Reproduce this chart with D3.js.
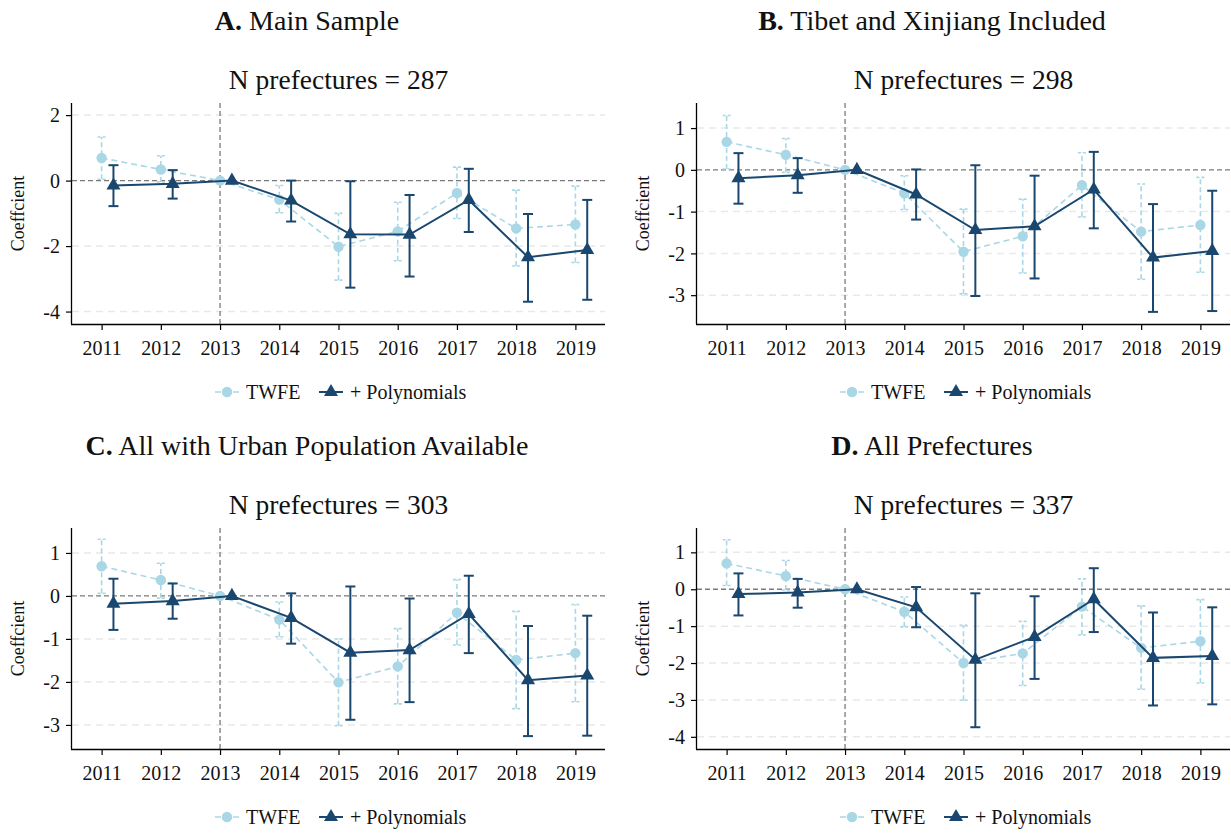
<!DOCTYPE html>
<html><head><meta charset="utf-8">
<script src="https://cdn.jsdelivr.net/npm/d3@7"></script>
<style>
body{margin:0;background:#fff;}
svg{display:block;font-family:"Liberation Serif","Times New Roman",serif;}
svg text{font-family:"Liberation Serif","Times New Roman",serif;}
</style>
</head><body>
<svg id="chart" width="1231" height="833"></svg>
<script>
// ---------------- data ----------------
const years = [2011, 2012, 2013, 2014, 2015, 2016, 2017, 2018, 2019];
const seriesNames = ["TWFE", "+ Polynomials"];
const panelLetters = ["A.", "B.", "C.", "D."];
const panelTitles = [" Main Sample", " Tibet and Xinjiang Included", " All with Urban Population Available", " All Prefectures"];
const nPrefectures = [287, 298, 303, 337];
const yAxisTitle = "Coeffcient";

const yTicksA = [2, 0, -2, -4];
const yTicksB = [1, 0, -1, -2, -3];
const yTicksC = [1, 0, -1, -2, -3];
const yTicksD = [1, 0, -1, -2, -3, -4];
const yDomainA = [-4.38, 2.37];
const yDomainB = [-3.69, 1.60];
const yDomainC = [-3.56, 1.58];
const yDomainD = [-4.33, 1.66];

// Panel A
const twfeA   = [0.69, 0.34, 0, -0.58, -2.02, -1.55, -0.38, -1.46, -1.34];
const twfeLoA = [0.04, -0.04, null, -0.98, -3.04, -2.45, -1.16, -2.61, -2.50];
const twfeHiA = [1.33, 0.76, null, -0.15, -1.00, -0.66, 0.41, -0.29, -0.17];
const polyA   = [-0.15, -0.10, 0, -0.61, -1.64, -1.65, -0.59, -2.34, -2.12];
const polyLoA = [-0.78, -0.55, null, -1.25, -3.27, -2.93, -1.57, -3.70, -3.64];
const polyHiA = [0.47, 0.32, null, 0.00, -0.02, -0.44, 0.36, -1.02, -0.59];
// Panel B
const twfeB   = [0.67, 0.36, 0, -0.56, -1.96, -1.59, -0.37, -1.48, -1.32];
const twfeLoB = [0.02, -0.06, null, -0.95, -2.97, -2.47, -1.13, -2.62, -2.45];
const twfeHiB = [1.30, 0.75, null, -0.14, -0.94, -0.70, 0.41, -0.34, -0.18];
const polyB   = [-0.20, -0.13, 0, -0.59, -1.44, -1.35, -0.47, -2.10, -1.94];
const polyLoB = [-0.81, -0.55, null, -1.19, -3.02, -2.60, -1.40, -3.40, -3.38];
const polyHiB = [0.40, 0.28, null, 0.01, 0.11, -0.14, 0.43, -0.82, -0.50];
// Panel C
const twfeC   = [0.69, 0.37, 0, -0.55, -2.01, -1.64, -0.39, -1.49, -1.33];
const twfeLoC = [0.06, -0.05, null, -0.95, -3.02, -2.51, -1.14, -2.62, -2.46];
const twfeHiC = [1.32, 0.76, null, -0.14, -1.00, -0.76, 0.38, -0.36, -0.20];
const polyC   = [-0.18, -0.12, 0, -0.51, -1.32, -1.26, -0.42, -1.96, -1.85];
const polyLoC = [-0.79, -0.53, null, -1.11, -2.88, -2.47, -1.33, -3.26, -3.25];
const polyHiC = [0.40, 0.29, null, 0.06, 0.22, -0.06, 0.47, -0.70, -0.46];
// Panel D
const twfeD   = [0.70, 0.36, 0, -0.61, -2.00, -1.74, -0.47, -1.59, -1.41];
const twfeLoD = [0.10, -0.02, null, -1.02, -3.01, -2.61, -1.24, -2.71, -2.54];
const twfeHiD = [1.34, 0.78, null, -0.21, -0.98, -0.87, 0.28, -0.45, -0.28];
const polyD   = [-0.13, -0.09, 0, -0.49, -1.91, -1.29, -0.27, -1.86, -1.81];
const polyLoD = [-0.71, -0.50, null, -1.03, -3.74, -2.43, -1.16, -3.15, -3.12];
const polyHiD = [0.43, 0.28, null, 0.06, -0.11, -0.19, 0.57, -0.63, -0.49];

const eventYear = 2013;
const polyShift = 0.2;

// ---------------- layout / style ----------------
const FONT = '"Liberation Serif","Times New Roman",serif';
const LIGHT = "#a9d7e6";
const NAVY = "#1a476f";
const panels = [
  {letter: panelLetters[0], title: panelTitles[0], n: nPrefectures[0], ticks: yTicksA, dom: yDomainA, tw: twfeA, twLo: twfeLoA, twHi: twfeHiA, po: polyA, poLo: polyLoA, poHi: polyHiA, ox: 0, oy: 0},
  {letter: panelLetters[1], title: panelTitles[1], n: nPrefectures[1], ticks: yTicksB, dom: yDomainB, tw: twfeB, twLo: twfeLoB, twHi: twfeHiB, po: polyB, poLo: polyLoB, poHi: polyHiB, ox: 625, oy: 0},
  {letter: panelLetters[2], title: panelTitles[2], n: nPrefectures[2], ticks: yTicksC, dom: yDomainC, tw: twfeC, twLo: twfeLoC, twHi: twfeHiC, po: polyC, poLo: polyLoC, poHi: polyHiC, ox: 0, oy: 425},
  {letter: panelLetters[3], title: panelTitles[3], n: nPrefectures[3], ticks: yTicksD, dom: yDomainD, tw: twfeD, twLo: twfeLoD, twHi: twfeHiD, po: polyD, poLo: polyLoD, poHi: polyHiD, ox: 625, oy: 425}
];
const plot = {left: 72, right: 605, top: 103, bottom: 324};

const svg = d3.select("#chart");
const triangle = d3.symbol().type(d3.symbolTriangle).size(85);

panels.forEach(p => {
  const g = svg.append("g").attr("transform", `translate(${p.ox},${p.oy})`);
  const x = d3.scaleLinear().domain([years[0] - 0.5, years[years.length - 1] + 0.5]).range([plot.left, plot.right]);
  const y = d3.scaleLinear().domain(p.dom).range([plot.bottom, plot.top]);

  // titles
  const t = g.append("text").attr("x", 307).attr("y", 30).attr("text-anchor", "middle")
    .attr("font-family", FONT).style("font-size", "28px").attr("fill", "#111");
  t.append("tspan").attr("font-weight", "bold").text(p.letter);
  t.append("tspan").text(p.title);
  g.append("text").attr("x", (plot.left + plot.right) / 2).attr("y", 89).attr("text-anchor", "middle")
    .attr("font-family", FONT).style("font-size", "27.5px").attr("fill", "#111").text(`N prefectures = ${p.n}`);

  // gridlines
  g.append("g").selectAll("line").data(p.ticks.filter(v => v !== 0)).join("line")
    .attr("x1", plot.left).attr("x2", plot.right)
    .attr("y1", d => y(d)).attr("y2", d => y(d))
    .attr("stroke", "#e9e9e9").attr("stroke-width", 1.5).attr("stroke-dasharray", "7,5");

  // reference lines
  g.append("line").attr("x1", plot.left).attr("x2", plot.right).attr("y1", y(0)).attr("y2", y(0))
    .attr("stroke", "#7a7a7a").attr("stroke-width", 1.3).attr("stroke-dasharray", "5,3");
  g.append("line").attr("x1", x(eventYear)).attr("x2", x(eventYear)).attr("y1", plot.top).attr("y2", plot.bottom)
    .attr("stroke", "#7a7a7a").attr("stroke-width", 1.3).attr("stroke-dasharray", "5,3");

  // axes
  const yAxis = d3.axisLeft(y).tickValues(p.ticks).tickSize(6).tickPadding(6).tickFormat(d => String(d));
  const yg = g.append("g").attr("transform", `translate(${plot.left},0)`).call(yAxis);
  yg.select(".domain").attr("d", `M-0.5,${plot.top}V${plot.bottom}`).attr("stroke", "#000").attr("stroke-width", 1.3);
  const xAxis = d3.axisBottom(x).tickValues(years).tickSize(6).tickPadding(7).tickFormat(d => String(d));
  const xg = g.append("g").attr("transform", `translate(0,${plot.bottom})`).call(xAxis);
  xg.select(".domain").attr("d", `M${plot.left - 1},0.5H${plot.right}`).attr("stroke", "#000").attr("stroke-width", 1.3);
  [yg, xg].forEach(a => {
    a.attr("font-family", FONT).attr("font-size", 20);
    a.selectAll("text").attr("font-family", FONT).style("font-size", "20px").attr("fill", "#111");
    a.selectAll(".tick line").attr("stroke", "#000").attr("stroke-width", 1.2);
  });
  xg.selectAll("text").attr("dy", "0.9em");
  yg.selectAll("text").attr("dy", "0.33em");

  g.append("text").attr("transform", `translate(24,${(plot.top + plot.bottom) / 2}) rotate(-90)`)
    .attr("text-anchor", "middle").attr("font-family", FONT).style("font-size", "18px").attr("fill", "#111").text(yAxisTitle);

  // data rows
  const tw = years.map((yr, i) => ({x: yr, v: p.tw[i], lo: p.twLo[i], hi: p.twHi[i]}));
  const po = years.map((yr, i) => ({x: yr + polyShift, v: p.po[i], lo: p.poLo[i], hi: p.poHi[i]}));

  // TWFE (light, dashed)
  const twCI = tw.filter(d => d.lo !== null);
  const gt = g.append("g");
  gt.selectAll("line.v").data(twCI).join("line").attr("class", "v")
    .attr("x1", d => x(d.x)).attr("x2", d => x(d.x)).attr("y1", d => y(d.lo)).attr("y2", d => y(d.hi))
    .attr("stroke", LIGHT).attr("stroke-width", 1.6).attr("stroke-dasharray", "5,3");
  ["lo", "hi"].forEach(k => {
    gt.selectAll("line.c" + k).data(twCI).join("line").attr("class", "c" + k)
      .attr("x1", d => x(d.x) - 4).attr("x2", d => x(d.x) + 4).attr("y1", d => y(d[k])).attr("y2", d => y(d[k]))
      .attr("stroke", LIGHT).attr("stroke-width", 1.6).attr("stroke-dasharray", "3,2");
  });
  gt.append("path").datum(tw)
    .attr("d", d3.line().x(d => x(d.x)).y(d => y(d.v)))
    .attr("fill", "none").attr("stroke", LIGHT).attr("stroke-width", 1.6).attr("stroke-dasharray", "6,4");
  gt.selectAll("circle").data(tw).join("circle")
    .attr("cx", d => x(d.x)).attr("cy", d => y(d.v)).attr("r", 5.2).attr("fill", LIGHT);

  // Polynomials (navy, solid)
  const poCI = po.filter(d => d.lo !== null);
  const gp = g.append("g");
  gp.selectAll("line.v").data(poCI).join("line").attr("class", "v")
    .attr("x1", d => x(d.x)).attr("x2", d => x(d.x)).attr("y1", d => y(d.lo)).attr("y2", d => y(d.hi))
    .attr("stroke", NAVY).attr("stroke-width", 2);
  ["lo", "hi"].forEach(k => {
    gp.selectAll("line.c" + k).data(poCI).join("line").attr("class", "c" + k)
      .attr("x1", d => x(d.x) - 5).attr("x2", d => x(d.x) + 5).attr("y1", d => y(d[k])).attr("y2", d => y(d[k]))
      .attr("stroke", NAVY).attr("stroke-width", 2);
  });
  gp.append("path").datum(po)
    .attr("d", d3.line().x(d => x(d.x)).y(d => y(d.v)))
    .attr("fill", "none").attr("stroke", NAVY).attr("stroke-width", 2);
  gp.selectAll("path.tri").data(po).join("path").attr("class", "tri")
    .attr("transform", d => `translate(${x(d.x)},${y(d.v)})`).attr("d", triangle).attr("fill", NAVY);

  // legend
  const lg = g.append("g").attr("transform", "translate(0,392)");
  lg.append("line").attr("x1", 215).attr("x2", 239).attr("stroke", LIGHT).attr("stroke-width", 1.6).attr("stroke-dasharray", "6,3");
  lg.append("circle").attr("cx", 227).attr("r", 5.2).attr("fill", LIGHT);
  lg.append("text").attr("x", 246).attr("y", 7).attr("font-family", FONT).style("font-size", "20px").attr("fill", "#111").text(seriesNames[0]);
  lg.append("line").attr("x1", 319).attr("x2", 343).attr("stroke", NAVY).attr("stroke-width", 2);
  lg.append("path").attr("transform", "translate(331,0)").attr("d", triangle).attr("fill", NAVY);
  lg.append("text").attr("x", 350).attr("y", 7).attr("font-family", FONT).style("font-size", "20px").attr("fill", "#111").text(seriesNames[1]);
});
</script>
</body></html>
